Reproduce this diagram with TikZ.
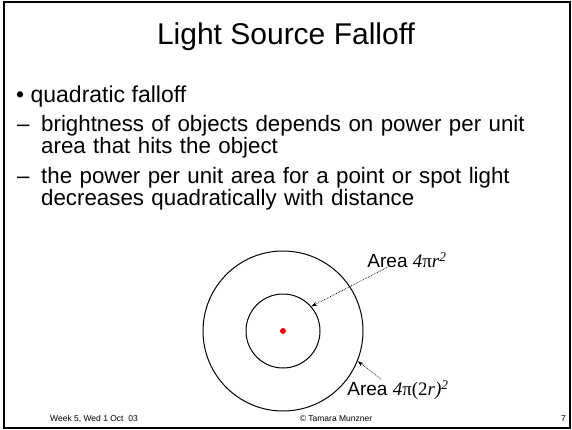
\documentclass[tikz,border=0pt]{standalone}
\usepackage{fontspec}
\setmainfont{Liberation Sans}
\newfontfamily\timesfont{Liberation Serif}
\usetikzlibrary{positioning,arrows.meta}
\definecolor{SpotRed}{RGB}{240, 0, 0}

\begin{document}
\begin{tikzpicture}[
        x=1pt, y=-1pt,
        title/.style={font=\fontsize{30}{34}\selectfont},
        bulletline/.style={anchor=base west, inner sep=0pt, font=\fontsize{23}{26}\selectfont},
        subline/.style={anchor=base west, inner sep=0pt, align=left, font=\fontsize{22.3}{22}\selectfont},
        footer/.style={inner sep=0pt, font=\fontsize{8.5}{10}\selectfont},
        ring/.style={circle, draw, line width=1pt, inner sep=0pt},
        arealabel/.style={inner sep=1pt, font=\fontsize{19}{22}\selectfont},
        pointer/.style={-{Stealth[length=6pt, width=4pt]}, densely dotted, line width=0.7pt}
    ]
        \useasboundingbox (0,0) rectangle (572,430);
        \draw[line width=2.5pt] (4,2) rectangle (570,428);

        \node[title] (head) at (286,37) {Light Source Falloff};

        \node[bulletline] (quad) at (16,103) {\textbullet\ quadratic falloff};
        \node[subline] (dash1) at (17,132) {--};
        \node[subline, text width=525pt] (bright) at (41,132) {brightness of objects depends on power per unit\\area that hits the object};
        \node[subline] (dash2) at (17,184) {--};
        \node[subline, text width=525pt] (power) at (41,184) {the power per unit area for a point or spot light\\decreases quadratically with distance};

        % two spheres round the light
        \node[ring, minimum size=160pt] (outer) at (283,331) {};
        \node[ring, minimum size=74pt] (inner) at (283,331) {};
        \fill[SpotRed] (inner.center) circle (3pt);

        \node[arealabel] (areaA) at (407,260) {Area {\timesfont\itshape 4\textup{π}r\textsuperscript{2}}};
        \node[arealabel] (areaB) at (398,390) {Area {\timesfont\itshape 4\textup{π(2}r)\textsuperscript{2}}};

        \draw[pointer] (areaA.south west) ++(22,-2) coordinate (fromA) -- (inner.41);
        \draw[pointer] (areaB.north west) ++(35,0) coordinate (fromB) -- (outer.-22);

        \node[footer, anchor=base west] (week) at (50,421) {Week 5, Wed 1 Oct\ \ 03};
        \node[footer, anchor=base] (owner) at (336,421) {© Tamara Munzner};
        \node[footer, anchor=base east] (page) at (566,421) {7};
    \end{tikzpicture}
\end{document}
